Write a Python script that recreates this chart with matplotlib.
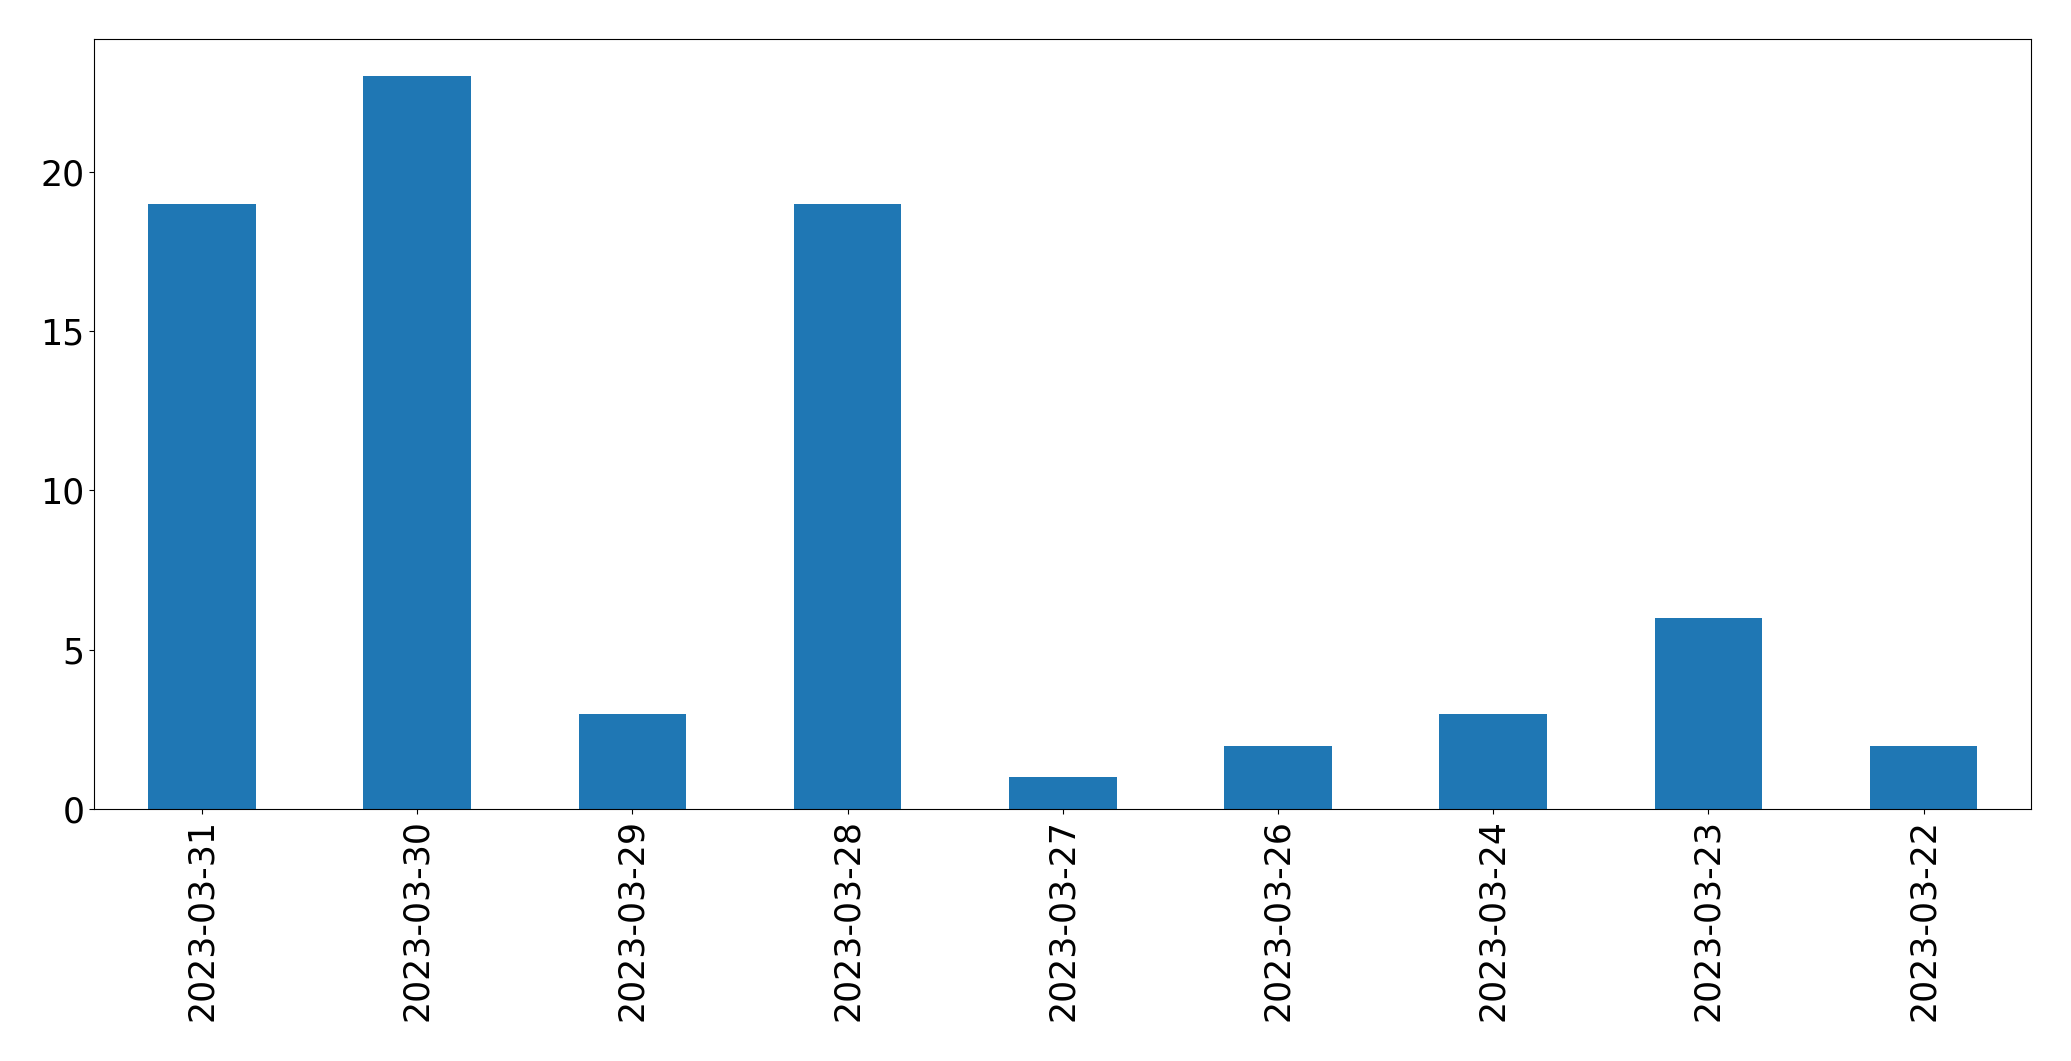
import matplotlib
matplotlib.use("Agg")
import matplotlib.pyplot as plt
import numpy as np

dates = ["2023-03-31", "2023-03-30", "2023-03-29", "2023-03-28", "2023-03-27",
         "2023-03-26", "2023-03-24", "2023-03-23", "2023-03-22"]
counts = [19, 23, 3, 19, 1, 2, 3, 6, 2]

W, H = 2071, 1061
fig = plt.figure(figsize=(W / 100, H / 100), dpi=100)
ax = fig.add_axes([94.3 / W, 1 - 809.3 / H, (2031.3 - 94.3) / W, (809.3 - 39.3) / H])
x = np.arange(len(dates))
ax.bar(x, counts, width=0.5, color="#1f77b4")
ax.set_xlim(-0.5, len(dates) - 0.5)
ax.set_xticks(x)
ax.set_xticklabels(dates, rotation=90)
ax.set_yticks([0, 5, 10, 15, 20])
ax.tick_params(labelsize=25)
fig.savefig("out.png", dpi=100)
